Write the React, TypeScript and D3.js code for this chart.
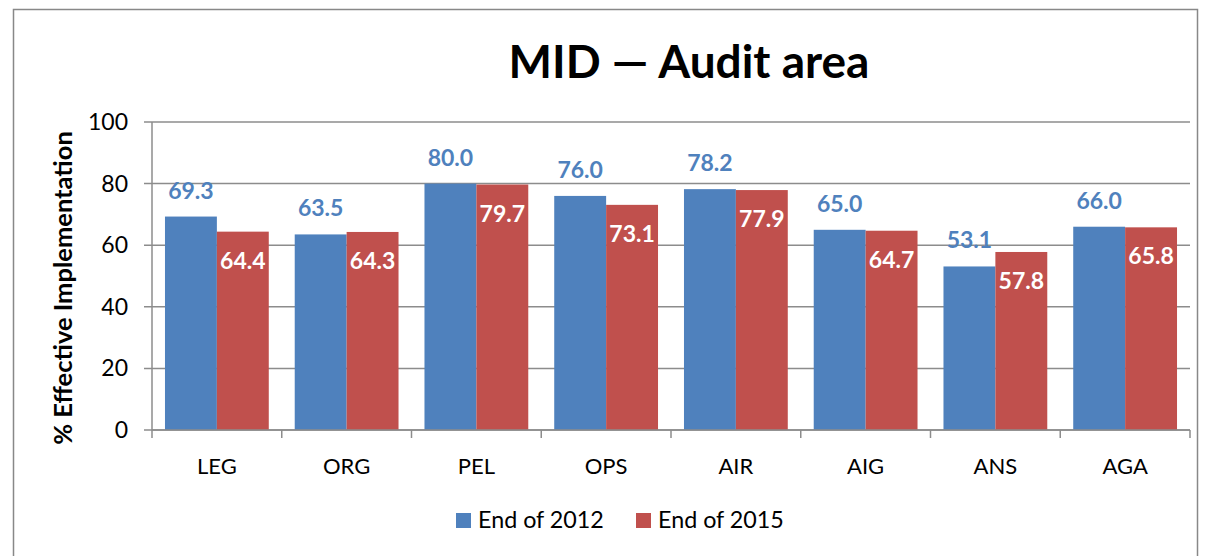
import React from "react";
import * as d3 from "d3";

const categories = ["LEG", "ORG", "PEL", "OPS", "AIR", "AIG", "ANS", "AGA"];
const end2012 = [69.3, 63.5, 80.0, 76.0, 78.2, 65.0, 53.1, 66.0];
const end2015 = [64.4, 64.3, 79.7, 73.1, 77.9, 64.7, 57.8, 65.8];
const seriesNames = ["End of 2012", "End of 2015"];
const yTicks = [0, 20, 40, 60, 80, 100];

const W = 1207;
const H = 556;
const BLUE = "#4F81BD";
const RED = "#C0504D";
const FONT = "Lato, 'Open Sans', sans-serif";

export default function App() {
  const left = 152, right = 1190, top = 122, bottom = 430;
  const x = d3.scaleBand<string>().domain(categories).range([left, right]).paddingInner(0).paddingOuter(0);
  const y = d3.scaleLinear().domain([0, 100]).range([bottom, top]);
  const bw = x.bandwidth();
  const barW = bw / 2.5;
  const inner = d3.scaleBand<number>().domain([0, 1]).range([0, barW * 2]);

  return (
    <svg width={W} height={H} style={{ position: "absolute", left: 0, top: 0, display: "block" }} fontFamily={FONT}>
      <rect x={0} y={0} width={W} height={H} fill="#fff" />
      <rect x={13.5} y={9.5} width={1184} height={600} fill="none" stroke="#888" strokeWidth={1.5} />
      <text x={689} y={78} textAnchor="middle" fontSize={46} fontWeight="bold" fill="#000">MID — Audit area</text>
      {/* grid */}
      {yTicks.map((t) => (
        <g key={t}>
          <line x1={left - 8} x2={right} y1={y(t)} y2={y(t)} stroke="#8c8c8c" strokeWidth={1.5} />
          <text x={128} y={y(t) + 8} textAnchor="end" fontSize={23} fill="#000">{t}</text>
        </g>
      ))}
      {/* bars */}
      {categories.map((c, i) => {
        const gx = (x(c) as number) + (bw - barW * 2) / 2;
        const vals = [end2012[i], end2015[i]];
        return (
          <g key={c}>
            {vals.map((v, s) => (
              <rect key={s} x={gx + (inner(s) as number)} y={y(v)} width={barW} height={bottom - y(v)} fill={s === 0 ? BLUE : RED} />
            ))}
            <text x={gx + (inner(0) as number) + barW / 2} y={y(vals[0]) - 18} textAnchor="middle" fontSize={23} fontWeight="bold" fill={BLUE}>{vals[0].toFixed(1)}</text>
            <text x={gx + (inner(1) as number) + barW / 2} y={y(vals[1]) + 37} textAnchor="middle" fontSize={23} fontWeight="bold" fill="#fff">{vals[1].toFixed(1)}</text>
          </g>
        );
      })}
      {/* axes */}
      <line x1={left} x2={left} y1={top} y2={bottom + 8} stroke="#8c8c8c" strokeWidth={1.5} />
      <line x1={left} x2={right} y1={bottom} y2={bottom} stroke="#8c8c8c" strokeWidth={1.5} />
      {categories.map((c, i) => (
        <g key={c}>
          <line x1={(x(c) as number) + bw} x2={(x(c) as number) + bw} y1={bottom} y2={bottom + 8} stroke="#8c8c8c" strokeWidth={1.5} />
          <text x={(x(c) as number) + bw / 2} y={474} textAnchor="middle" fontSize={22} fill="#000">{c}</text>
        </g>
      ))}
      <text transform={`translate(72, 288) rotate(-90)`} textAnchor="middle" fontSize={25.5} fontWeight="bold" fill="#000">% Effective Implementation</text>
      {/* legend */}
      <rect x={456} y={513} width={15} height={15} fill={BLUE} />
      <text x={478} y={528} fontSize={23.3} fill="#000">{seriesNames[0]}</text>
      <rect x={636} y={513} width={15} height={15} fill={RED} />
      <text x={658} y={528} fontSize={23.3} fill="#000">{seriesNames[1]}</text>
    </svg>
  );
}
